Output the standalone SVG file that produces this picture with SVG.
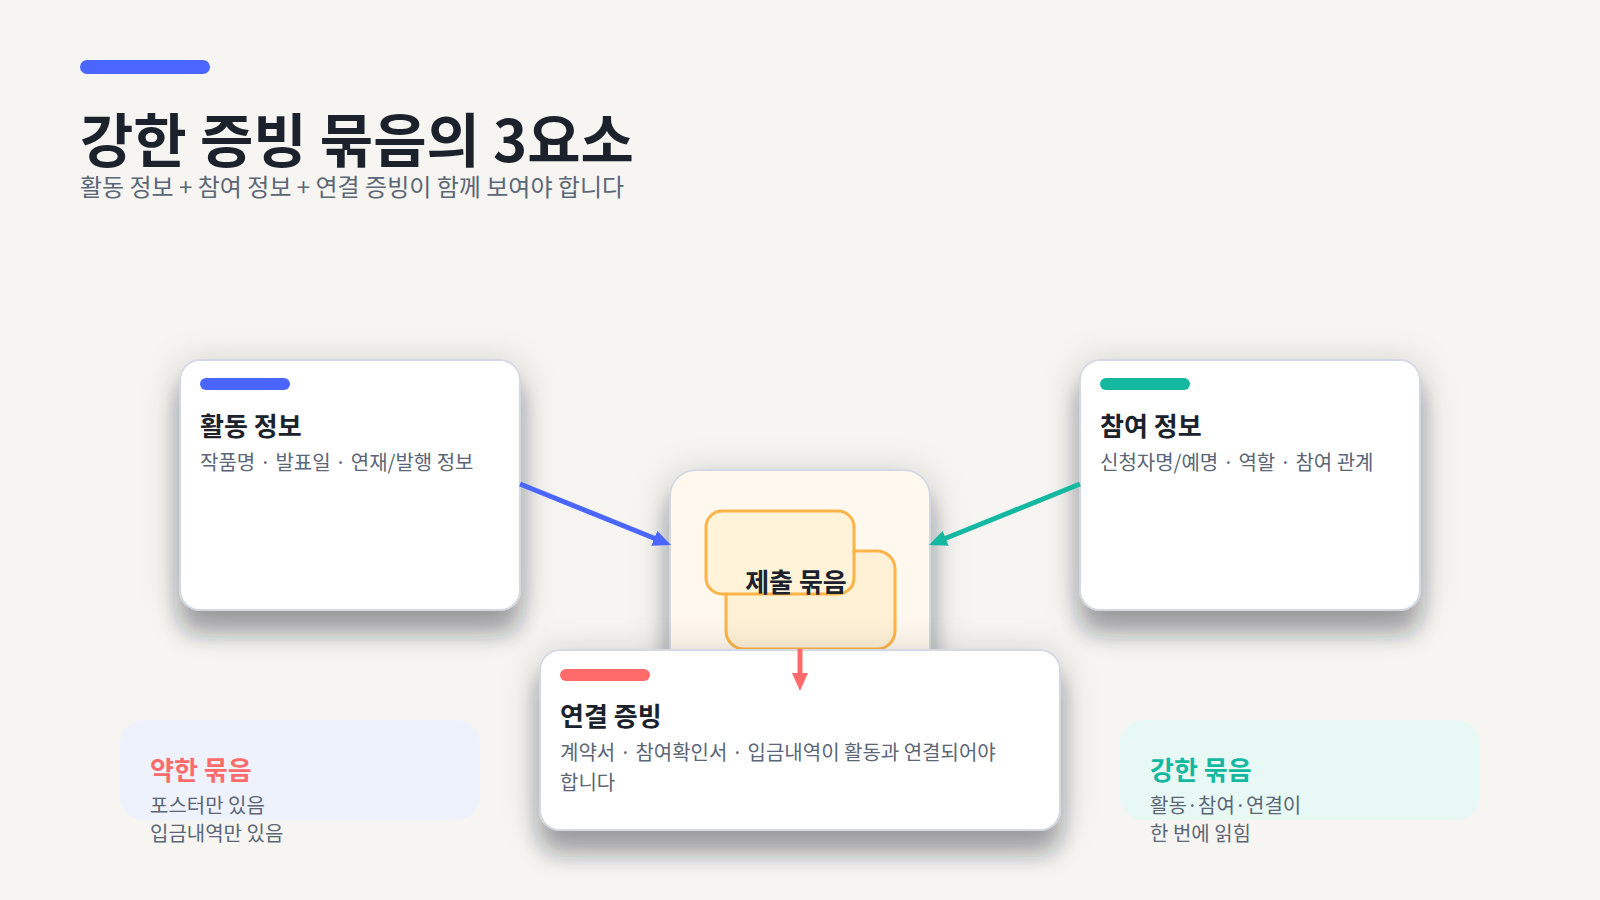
<svg xmlns="http://www.w3.org/2000/svg" width="1600" height="900" viewBox="0 0 1600 900">
<defs>
<filter id="sh" x="-30%" y="-30%" width="160%" height="180%">
<feGaussianBlur in="SourceAlpha" stdDeviation="18" result="b1"/>
<feOffset in="b1" dy="6" result="o1"/>
<feFlood flood-color="#1e2430" flood-opacity="0.2"/>
<feComposite in2="o1" operator="in" result="s1"/>
<feGaussianBlur in="SourceAlpha" stdDeviation="11" result="b2"/>
<feOffset in="b2" dy="24" result="o2"/>
<feFlood flood-color="#1e2430" flood-opacity="0.32"/>
<feComposite in2="o2" operator="in" result="s2"/>
<feMerge><feMergeNode in="s1"/><feMergeNode in="s2"/><feMergeNode in="SourceGraphic"/></feMerge>
</filter>
<marker id="mb" markerUnits="userSpaceOnUse" markerWidth="18" markerHeight="16" refX="4" refY="8" orient="auto"><path d="M0,0 L18,8 L0,16 z" fill="#4a66ff"/></marker>
<marker id="mt" markerUnits="userSpaceOnUse" markerWidth="18" markerHeight="16" refX="4" refY="8" orient="auto"><path d="M0,0 L18,8 L0,16 z" fill="#14b8a0"/></marker>
<marker id="mr" markerUnits="userSpaceOnUse" markerWidth="18" markerHeight="16" refX="4" refY="8" orient="auto"><path d="M0,0 L18,8 L0,16 z" fill="#ff6b6b"/></marker>
</defs>
<style>
text{font-family:"Noto Sans CJK KR","Noto Sans",sans-serif}
.card{fill:#ffffff;stroke:#d3d8e2;stroke-width:2;filter:url(#sh)}
.h{font-size:26px;font-weight:700;fill:#1b222b}
.d{font-size:20px;fill:#5b6677}
.l{font-size:20px;fill:#5b6677}
.con{fill:none;stroke-width:5;stroke-linecap:butt}
</style>
<rect width="1600" height="900" fill="#f6f5f1"/>
<g id="header">
<rect x="80" y="60" width="130" height="14" rx="7" fill="#4a66ff"/>
<text x="80" y="162" font-size="58" font-weight="700" fill="#1b222b">강한 증빙 묶음의 3요소</text>
<text x="80" y="196" font-size="24" fill="#5b6677">활동 정보 + 참여 정보 + 연결 증빙이 함께 보여야 합니다</text>
</g>
<g id="weak">
<rect x="120" y="720" width="360" height="100" rx="24" fill="#eef2fd"/>
<text x="150" y="780" class="h" style="fill:#ff6b6b">약한 묶음</text>
<text x="150" y="813" class="l">포스터만 있음</text>
<text x="150" y="841" class="l">입금내역만 있음</text>
</g>
<g id="strong">
<rect x="1120" y="720" width="360" height="100" rx="24" fill="#e8f8f4"/>
<text x="1150" y="780" class="h" style="fill:#14b8a0">강한 묶음</text>
<text x="1150" y="813" class="l">활동·참여·연결이</text>
<text x="1150" y="841" class="l">한 번에 읽힘</text>
</g>
<g id="activity">
<rect x="180" y="360" width="340" height="250" rx="20" class="card"/>
<rect x="200" y="378" width="90" height="12" rx="6" fill="#4a66ff"/>
<text x="200" y="436" class="h">활동 정보</text>
<text x="200" y="470" class="d">작품명 · 발표일 · 연재/발행 정보</text>
</g>
<g id="participation">
<rect x="1080" y="360" width="340" height="250" rx="20" class="card"/>
<rect x="1100" y="378" width="90" height="12" rx="6" fill="#14b8a0"/>
<text x="1100" y="436" class="h">참여 정보</text>
<text x="1100" y="470" class="d">신청자명/예명 · 역할 · 참여 관계</text>
</g>
<g id="bundle">
<rect x="670" y="470" width="260" height="250" rx="26" fill="#fff8ee" stroke="#d3d8e2" stroke-width="2" filter="url(#sh)"/>
<rect x="726" y="551" width="169" height="98" rx="18" fill="#fff1d6" stroke="#ffb347" stroke-width="3"/>
<rect x="706" y="511" width="148" height="83" rx="16" fill="#fff3da" stroke="#ffb347" stroke-width="3"/>
<text x="796" y="592" class="h" text-anchor="middle">제출 묶음</text>
</g>
<g id="link">
<rect x="540" y="650" width="520" height="180" rx="20" class="card"/>
<rect x="560" y="669" width="90" height="12" rx="6" fill="#ff6b6b"/>
<text x="560" y="726" class="h">연결 증빙</text>
<text x="560" y="760" class="d">계약서 · 참여확인서 · 입금내역이 활동과 연결되어야</text>
<text x="560" y="790" class="d">합니다</text>
</g>
<g id="connectors">
<line x1="520" y1="484" x2="658" y2="539.8" class="con" stroke="#4a66ff" marker-end="url(#mb)"/>
<line x1="1080" y1="484" x2="942" y2="539.8" class="con" stroke="#14b8a0" marker-end="url(#mt)"/>
<line x1="800" y1="649" x2="800" y2="677" class="con" stroke="#ff6b6b" marker-end="url(#mr)"/>
</g>
</svg>
